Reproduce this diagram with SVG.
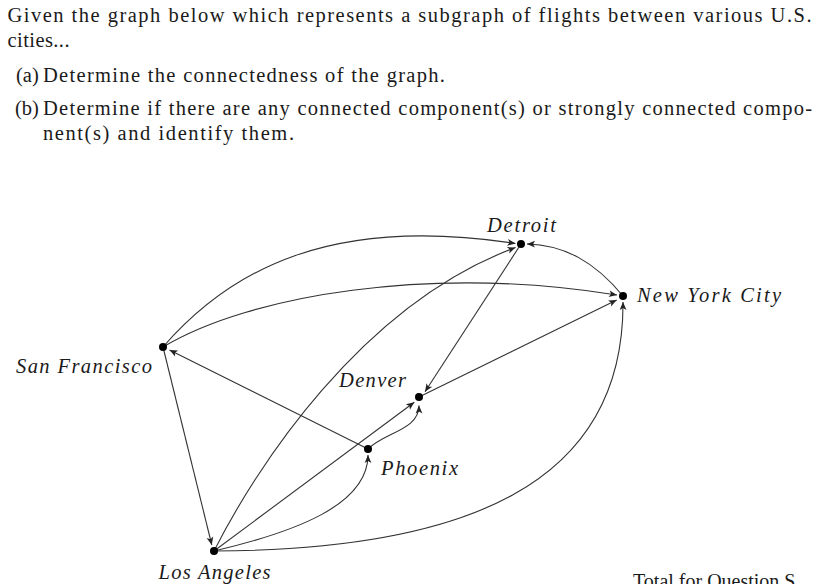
<svg xmlns="http://www.w3.org/2000/svg" width="816" height="584" viewBox="0 0 816 584">
<style>
.t{font-family:"Liberation Serif","Times New Roman",serif;font-size:20.5px;fill:#1a1a1a}
.lbl{font-family:"Liberation Serif","Times New Roman",serif;font-size:20.5px;font-style:italic;fill:#1a1a1a}
.e{fill:none;stroke:#333;stroke-width:1.1;marker-end:url(#arr)}
.dot{fill:#000}
</style>
<defs>
<marker id="arr" markerUnits="userSpaceOnUse" markerWidth="12" markerHeight="10" refX="9" refY="4" orient="auto" overflow="visible">
<path d="M9,4 L1,0.6 L3,4 L1,7.4 Z" fill="#222"/>
</marker>
</defs>
<rect width="816" height="584" fill="#fff"/>
<g id="question">
<text class="t" x="7.5" y="22" textLength="804">Given the graph below which represents a subgraph of flights between various U.S.</text>
<text class="t" x="7.5" y="46.5" textLength="62">cities...</text>
<text class="t" x="16" y="81.5">(a)</text>
<text class="t" x="43" y="81.5" textLength="402">Determine the connectedness of the graph.</text>
<text class="t" x="15" y="115">(b)</text>
<text class="t" x="43" y="115" textLength="769">Determine if there are any connected component(s) or strongly connected compo-</text>
<text class="t" x="43" y="140" textLength="251">nent(s) and identify them.</text>
</g>
<g id="connectors">
<path class="e" d="M163,347 C230,270 330,215 515.5,243.5"/>
<path class="e" d="M163,347 C250,295 430,265 617,295"/>
<path class="e" d="M368,449 L169.5,350"/>
<path class="e" d="M163,347 L211.8,545"/>
<path class="e" d="M214,551 C255,470 360,305 515.5,247.5"/>
<path class="e" d="M214,551 L414.3,402.3"/>
<path class="e" d="M214,551 C295,532 368,505 368,455"/>
<path class="e" d="M368,449 C385,432 419,430 419,405.5"/>
<path class="e" d="M214,551 C465,550 624,485 623,302"/>
<path class="e" d="M521,244 L425,391.7"/>
<path class="e" d="M419,397 L616.7,300"/>
<path class="e" d="M623,296 C595,262 565,245 527,244"/>
</g>
<g id="detroit"><circle class="dot" cx="521" cy="244" r="4"/><text class="lbl" x="487" y="232" textLength="69">Detroit</text></g>
<g id="new-york-city"><circle class="dot" cx="623" cy="296" r="4"/><text class="lbl" x="637" y="301.5" textLength="144">New York City</text></g>
<g id="san-francisco"><circle class="dot" cx="163" cy="347" r="4"/><text class="lbl" x="16" y="373" textLength="136">San Francisco</text></g>
<g id="denver"><circle class="dot" cx="419" cy="397" r="4"/><text class="lbl" x="339" y="387" textLength="67">Denver</text></g>
<g id="phoenix"><circle class="dot" cx="368" cy="449" r="4"/><text class="lbl" x="381" y="475" textLength="77">Phoenix</text></g>
<g id="los-angeles"><circle class="dot" cx="214" cy="551" r="4"/><text class="lbl" x="158.5" y="579" textLength="112">Los Angeles</text></g>
<g id="footer"><text class="t" x="633" y="588" style="font-size:20px">Total for Question S</text></g>
</svg>
